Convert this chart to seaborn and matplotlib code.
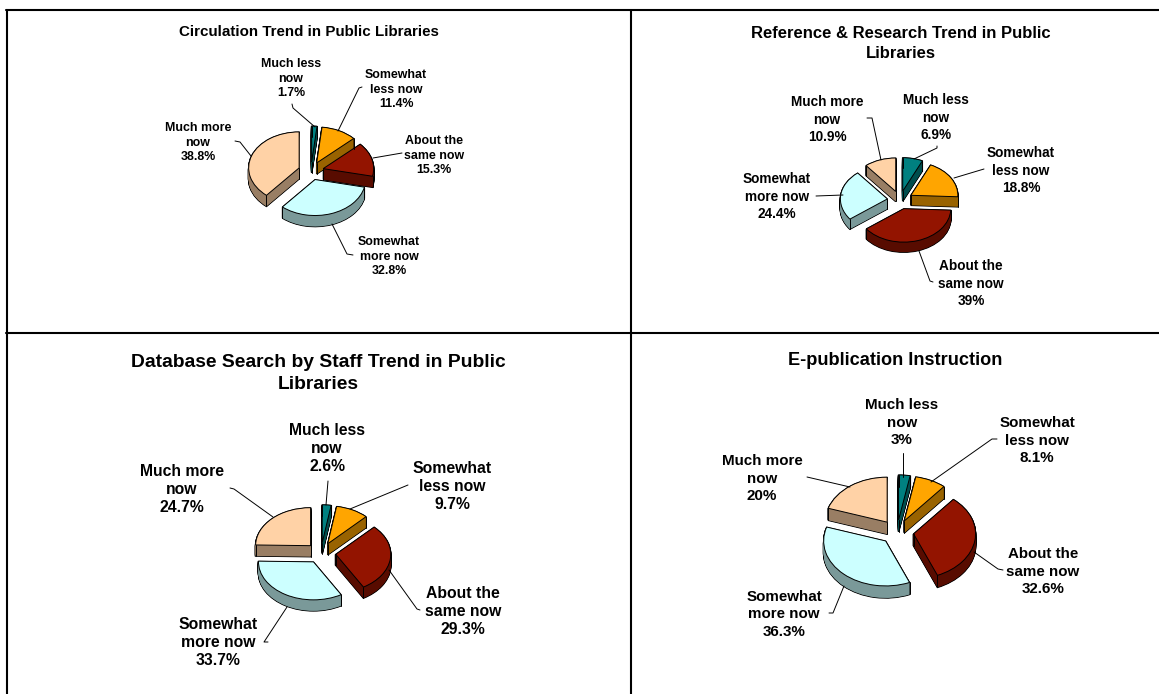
import numpy as np
import seaborn as sns
import matplotlib
matplotlib.use("Agg")
import matplotlib.pyplot as plt

sns.set_theme(style="white")
plt.rcParams['font.family'] = ['Liberation Sans', 'DejaVu Sans']

W, H = 1159, 694

categories = ["Much less\nnow", "Somewhat\nless now", "About the\nsame now",
              "Somewhat\nmore now", "Much more\nnow"]
circulation = [1.7, 11.4, 15.3, 32.8, 38.8]
reference = [6.9, 18.8, 39, 24.4, 10.9]
database = [2.6, 9.7, 29.3, 33.7, 24.7]
epublication = [3, 8.1, 32.6, 36.3, 20]
titles = ["Circulation Trend in Public Libraries",
          "Reference & Research Trend in Public\nLibraries",
          "Database Search by Staff Trend in Public\nLibraries",
          "E-publication Instruction"]
series = [circulation, reference, database, epublication]

top_colors = sns.color_palette(["#008080", "#FFA500", "#931400", "#CCFFFF", "#FFD2A6"])
side_colors = [tuple(c * 0.6 for c in col) for col in top_colors]

# cx, cy, rx, ry, depth in pixels, font sizes, line spacing
layout = [
    dict(c=(311, 171), r=(50.5, 36), d=11, e=0.25, fs=8.9, tfs=10.9, ls=1.29, ty=32),
    dict(c=(900, 200), r=(47, 33.5), d=10, e=0.27, fs=9.8, tfs=12.0, ls=1.28, ty=43.5),
    dict(c=(321, 553), r=(55, 38), d=11, e=0.27, fs=11.3, tfs=13.9, ls=1.26, ty=373.5),
    dict(c=(897, 532), r=(62, 45), d=12, e=0.27, fs=10.9, tfs=13.1, ls=1.3, ty=360),
]
title_x = [309, 901, 318, 895]

label_pos = [
    [(291, 78.5), (396, 89.5), (434, 155.5), (389, 256.5), (198, 142.5)],
    [(936, 117.5), (1021, 170.5), (971, 283.5), (777, 196.5), (827, 119.5)],
    [(327, 448.5), (452, 486.5), (463, 611.5), (218, 642.5), (182, 489.5)],
    [(902, 422.5), (1037, 440.5), (1043, 571.5), (784, 614.5), (762, 478.5)],
]
leaders = [
    [[(292, 104), (293, 108), (315, 127)], [(362, 87), (359, 88), (338, 131)],
     [(402, 153), (373, 158)], [(353, 255), (347, 254), (332, 224)],
     [(235, 141), (240, 142), (251, 156)]],
    [[(937, 146), (937, 148), (914, 159)], [(984, 169), (954, 178)],
     [(933, 282), (930, 281), (919, 251)], [(816, 196), (843, 195)],
     [(867, 118), (872, 118), (881, 160)]],
    [[(328, 481), (326, 505)], [(408, 485), (350, 509)],
     [(420, 610), (417, 609), (389, 570)], [(268, 642), (264, 642), (287, 607)],
     [(230, 488), (234, 489), (273, 517)]],
    [[(903, 453), (903, 477)], [(997, 439), (992, 439), (931, 482)],
     [(1003, 570), (998, 569), (974, 552)], [(829, 613), (833, 613), (844, 586)],
     [(807, 477), (850, 487)]],
]


def in_wedge(x, y, w):
    dx, dy = x - w.center[0], y - w.center[1]
    if np.hypot(dx, dy) > w.r:
        return False
    a = np.degrees(np.arctan2(dy, dx))
    return (a - w.theta1) % 360 < (w.theta2 - w.theta1)


def draw_pie(fig, values, g):
    cx, cy = g['c']
    rx, ry = g['r']
    ax = fig.add_axes([(cx - 2 * rx) / W, 1 - (cy + 2 * ry + 20) / H, 4 * rx / W, (4 * ry + 20) / H])
    ax.patch.set_alpha(0)
    explode = [g['e']] * len(values)
    depth = g['d'] / ry
    offsets = np.linspace(depth, 0, int(g['d'] * 2) + 1)
    common = dict(explode=explode, startangle=90, counterclock=False, normalize=True)
    # silhouette of the walls first, then fill them, then the lid
    for o in offsets[:-1]:
        ax.pie(values, colors=['black'] * 5, center=(0, -o),
               wedgeprops=dict(linewidth=1.1, edgecolor='black'), **common)
    for o in offsets[:-1]:
        ax.pie(values, colors=side_colors, center=(0, -o),
               wedgeprops=dict(linewidth=0), **common)
    wedges, _ = ax.pie(values, colors=top_colors, center=(0, 0),
                       wedgeprops=dict(linewidth=0.7, edgecolor='black'), **common)
    # vertical edges where the cut faces meet
    for w in wedges:
        mx, my = w.center
        pts = [(mx, my)]
        for t in (w.theta1, w.theta2):
            pts.append((mx + w.r * np.cos(np.radians(t)), my + w.r * np.sin(np.radians(t))))
        for px, py in pts:
            if not in_wedge(px, py - 0.03, w):
                ax.plot([px, px], [py, py - depth], color='black', lw=0.7, zorder=5)
    ax.set_aspect('auto')
    ax.set_xlim(-2, 2)
    ax.set_ylim(-2 - 20 / ry, 2)
    ax.axis('off')


fig = plt.figure(figsize=(W / 100, H / 100), dpi=100, facecolor='white')

for vals, g in zip(series, layout):
    draw_pie(fig, vals, g)

over = fig.add_axes([0, 0, 1, 1])
over.patch.set_alpha(0)
over.set_xlim(0, W)
over.set_ylim(H, 0)
over.axis('off')

# table rules
over.plot([6.5, 6.5], [10, H], color='black', lw=1.5)
over.plot([6, W], [10, 10], color='black', lw=1.5)
over.plot([631, 631], [10, H], color='black', lw=1.5)
over.plot([6, W], [332.5, 332.5], color='black', lw=1.5)

for i, vals in enumerate(series):
    g = layout[i]
    over.text(title_x[i], g['ty'], titles[i], ha='center', va='center', fontweight='bold',
              fontsize=g['tfs'], color='black', linespacing=1.38)
    for cat, v, (x, y), line in zip(categories, vals, label_pos[i], leaders[i]):
        over.text(x, y, f"{cat}\n{v:g}%", ha='center', va='center', fontweight='bold',
                  fontsize=g['fs'], color='black', linespacing=g['ls'])
        xs, ys = zip(*line)
        over.plot(xs, ys, color='black', lw=0.7)

fig.savefig("out.png", dpi=100)
